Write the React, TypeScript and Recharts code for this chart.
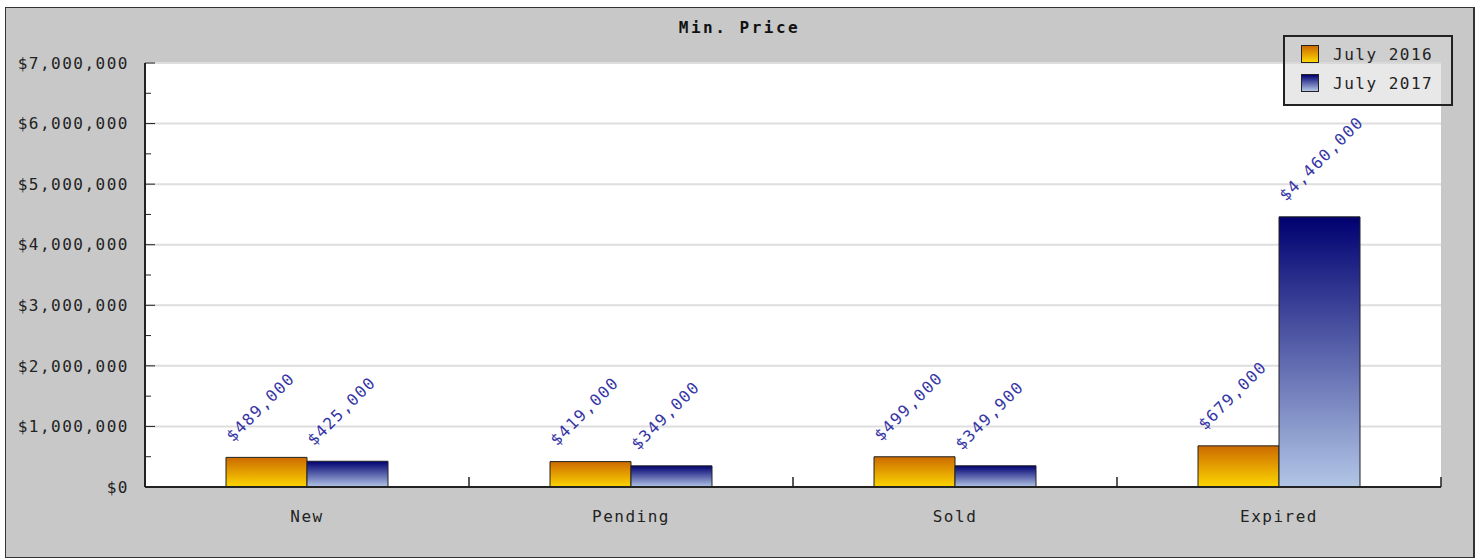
import { BarChart, Bar, XAxis, YAxis, CartesianGrid, LabelList } from 'recharts';

const categories = ['New', 'Pending', 'Sold', 'Expired'];
const july2016 = [489000, 419000, 499000, 679000];
const july2017 = [425000, 349000, 349900, 4460000];
const yTicks = [0, 500000, 1000000, 1500000, 2000000, 2500000, 3000000, 3500000, 4000000, 4500000, 5000000, 5500000, 6000000, 6500000, 7000000];
const gridValues = [1000000, 2000000, 3000000, 4000000, 5000000, 6000000, 7000000];

const data = categories.map((name, i) => ({ name, y2016: july2016[i], y2017: july2017[i] }));

const FONT = '"DejaVu Sans Mono", monospace';
const money = (v: number) => '$' + v.toLocaleString('en-US');

const YTick = (props: any) => {
  const { x, y, payload } = props;
  const major = payload.value % 1000000 === 0;
  return (
    <g>
      <line x1={x + 16} x2={x + 16 + (major ? 10 : 6)} y1={y} y2={y} stroke="#222" />
      {major && (
        <text x={x} y={y} dy="0.355em" textAnchor="end" fill="#222" fontSize={16} letterSpacing={1.5} fontFamily={FONT}>
          {money(payload.value)}
        </text>
      )}
    </g>
  );
};

// category label plus the separator tick at the right edge of the band
const XTick = (props: any) => {
  const { x, y, payload, width, visibleTicksCount } = props;
  const axisY = y - 24;
  const edge = x + width / visibleTicksCount / 2;
  return (
    <g>
      <line x1={edge} x2={edge} y1={axisY} y2={axisY - 10} stroke="#222" strokeWidth={1.5} />
      <text x={x} y={y} dy="0.71em" textAnchor="middle" fill="#222" fontSize={16} letterSpacing={1.5} fontFamily={FONT}>
        {payload.value}
      </text>
    </g>
  );
};

const ValueLabel = (props: any) => {
  const { x, y, value } = props;
  const tx = x + 7;
  const ty = y - 15;
  return (
    <text x={tx} y={ty} transform={`rotate(-45 ${tx} ${ty})`} fill="#3636a6" fontSize={16} letterSpacing={1.5} fontFamily={FONT}>
      {money(value)}
    </text>
  );
};

export default function App() {
  return (
    <div
      style={{
        position: 'absolute',
        left: 5,
        top: 7,
        width: 1470,
        height: 551,
        boxSizing: 'border-box',
        border: '1px solid #333',
        borderRightWidth: 2,
        background: '#c8c8c8',
      }}
    >
      <div
        style={{
          position: 'absolute',
          left: 0,
          right: 0,
          top: 10,
          textAlign: 'center',
          fontFamily: FONT,
          fontWeight: 'bold',
          fontSize: 16,
          letterSpacing: 2.5,
          color: '#111',
        }}
      >
        Min. Price
      </div>
      <BarChart
        width={1467}
        height={549}
        data={data}
        margin={{ top: 55, right: 32, bottom: 30, left: 0 }}
        barCategoryGap="25%"
        barGap={0}
      >
        <defs>
          <linearGradient id="g2016" x1="0" y1="0" x2="0" y2="1">
            <stop offset="0%" stopColor="#cc6a00" />
            <stop offset="100%" stopColor="#fcd600" />
          </linearGradient>
          <linearGradient id="g2017" x1="0" y1="0" x2="0" y2="1">
            <stop offset="0%" stopColor="#000070" />
            <stop offset="100%" stopColor="#b2c6e6" />
          </linearGradient>
        </defs>
        <CartesianGrid fill="#fff" vertical={false} stroke="#dedede" strokeWidth={2} horizontalValues={gridValues} />
        <XAxis
          dataKey="name"
          height={40}
          axisLine={{ stroke: '#222', strokeWidth: 2 }}
          tickLine={false}
          tickSize={0}
          tickMargin={24}
          interval={0}
          tick={<XTick />}
        />
        <YAxis
          width={139}
          domain={[0, 7000000]}
          ticks={yTicks}
          interval={0}
          axisLine={{ stroke: '#222', strokeWidth: 2 }}
          tickLine={false}
          tickSize={0}
          tickMargin={16}
          tick={<YTick />}
        />
        <Bar dataKey="y2016" name="July 2016" fill="url(#g2016)" stroke="#222" isAnimationActive={false}>
          <LabelList dataKey="y2016" content={<ValueLabel />} />
        </Bar>
        <Bar dataKey="y2017" name="July 2017" fill="url(#g2017)" stroke="#222" isAnimationActive={false}>
          <LabelList dataKey="y2017" content={<ValueLabel />} />
        </Bar>
      </BarChart>
      <div
        style={{
          position: 'absolute',
          left: 1277,
          top: 27,
          width: 170,
          height: 71,
          boxSizing: 'border-box',
          border: '2px solid #222',
          background: 'rgba(213,213,213,0.55)',
          fontFamily: FONT,
          fontSize: 16,
          letterSpacing: 1.5,
          color: '#222',
        }}
      >
        {[
          { label: 'July 2016', grad: 'linear-gradient(#cc6a00, #fcd600)' },
          { label: 'July 2017', grad: 'linear-gradient(#000070, #b2c6e6)' },
        ].map((item, i) => (
          <div key={i} style={{ position: 'absolute', left: 16, top: 7 + i * 29, height: 20, display: 'flex', alignItems: 'center' }}>
            <span style={{ width: 18, height: 18, boxSizing: 'border-box', border: '1px solid #222', background: item.grad, marginRight: 14 }} />
            <span>{item.label}</span>
          </div>
        ))}
      </div>
    </div>
  );
}
